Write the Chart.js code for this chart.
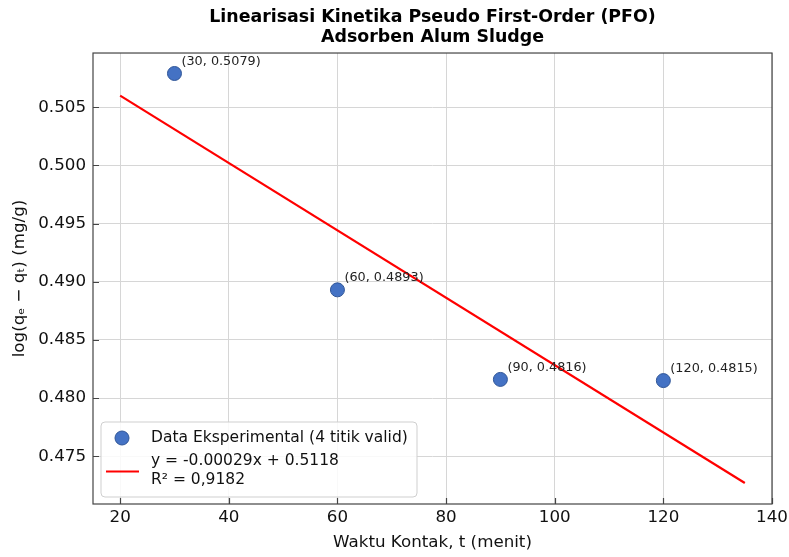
<!DOCTYPE html>
<html>
<head>
<meta charset="utf-8">
<script src="https://cdn.jsdelivr.net/npm/chart.js@4.4.1/dist/chart.umd.min.js"></script>
<style>
  html, body { margin: 0; padding: 0; background: #fff; }
</style>
</head>
<body>
<canvas id="pfo-chart" width="789" height="557"></canvas>
<script>
// data
const timeMin = [30, 60, 90, 120];
const logQ = [0.5079, 0.4893, 0.4816, 0.4815];
const pointLabels = ["(30, 0.5079)", "(60, 0.4893)", "(90, 0.4816)", "(120, 0.4815)"];
const fitX = [20, 135];
const fitY = [0.5060, 0.4727];
const xTicks = [20, 40, 60, 80, 100, 120, 140];
const yTicks = [0.475, 0.480, 0.485, 0.490, 0.495, 0.500, 0.505];
const scatterLabel = "Data Eksperimental (4 titik valid)";
const fitLabel = ["y = -0.00029x + 0.5118", "R\u00b2 = 0,9182"];

const FONT = "'DejaVu Sans', sans-serif";
const dotFill = "#4472c4";
const dotEdge = "#2f5597";
const spine = "#444";

const extras = {
    id: "extras",
    beforeDatasetsDraw(chart) {
        const ctx = chart.ctx;
        const a = chart.chartArea;
        const sx = chart.scales.x, sy = chart.scales.y;
        ctx.save();
        // inward tick marks
        ctx.strokeStyle = spine;
        ctx.lineWidth = 1.2;
        ctx.beginPath();
        xTicks.forEach(v => {
            const px = Math.round(sx.getPixelForValue(v)) + 0.5;
            ctx.moveTo(px, a.bottom);
            ctx.lineTo(px, a.bottom - 6);
        });
        yTicks.forEach(v => {
            const py = Math.round(sy.getPixelForValue(v)) + 0.5;
            ctx.moveTo(a.left, py);
            ctx.lineTo(a.left + 6, py);
        });
        ctx.stroke();
        // spines
        ctx.strokeRect(a.left, a.top, a.right - a.left, a.bottom - a.top);
        ctx.restore();
    },
    afterDraw(chart) {
        const ctx = chart.ctx;
        const a = chart.chartArea;
        const sx = chart.scales.x, sy = chart.scales.y;
        ctx.save();
        // point annotations
        ctx.font = "12.8px " + FONT;
        ctx.fillStyle = "#222";
        ctx.textAlign = "left";
        ctx.textBaseline = "alphabetic";
        timeMin.forEach((t, i) => {
            ctx.fillText(pointLabels[i], sx.getPixelForValue(t) + 7, sy.getPixelForValue(logQ[i]) - 8.5);
        });

        // legend box, lower left
        const bx = a.left + 8, bw = 316, bh = 75;
        const by = a.bottom - 7 - bh;
        ctx.beginPath();
        ctx.roundRect(bx, by, bw, bh, 4);
        ctx.fillStyle = "rgba(255,255,255,0.85)";
        ctx.fill();
        ctx.strokeStyle = "#cfcfcf";
        ctx.lineWidth = 1;
        ctx.stroke();

        ctx.beginPath();
        ctx.arc(bx + 21, by + 16, 7, 0, Math.PI * 2);
        ctx.fillStyle = dotFill;
        ctx.fill();
        ctx.strokeStyle = dotEdge;
        ctx.stroke();

        ctx.beginPath();
        ctx.moveTo(bx + 5, by + 49.5);
        ctx.lineTo(bx + 38, by + 49.5);
        ctx.strokeStyle = "red";
        ctx.lineWidth = 2.2;
        ctx.stroke();

        ctx.font = "15.5px " + FONT;
        ctx.fillStyle = "#111";
        ctx.textBaseline = "middle";
        ctx.fillText(scatterLabel, bx + 50, by + 16);
        ctx.fillText(fitLabel[0], bx + 50, by + 39);
        ctx.fillText(fitLabel[1], bx + 50, by + 58);
        ctx.restore();
    }
};

const ctx = document.getElementById("pfo-chart").getContext("2d");

new Chart(ctx, {
    type: "scatter",
    data: {
        datasets: [{
            label: scatterLabel,
            data: timeMin.map((t, i) => ({ x: t, y: logQ[i] })),
            backgroundColor: dotFill,
            borderColor: dotEdge,
            borderWidth: 1,
            pointRadius: 7,
            pointHoverRadius: 7
        }, {
            label: fitLabel.join(" "),
            data: fitX.map((x, i) => ({ x: x, y: fitY[i] })),
            showLine: true,
            borderColor: "red",
            borderWidth: 2.2,
            pointRadius: 0,
            fill: false
        }]
    },
    options: {
        responsive: false,
        animation: false,
        devicePixelRatio: 1,
        layout: { padding: { left: 0, right: 17, top: 0, bottom: 0 } },
        plugins: {
            legend: { display: false },
            tooltip: { enabled: false },
            title: {
                display: true,
                fullSize: false,
                text: ["Linearisasi Kinetika Pseudo First-Order (PFO)", "Adsorben Alum Sludge"],
                color: "#000",
                font: { family: FONT, size: 17.4, weight: "bold", lineHeight: 1.15 },
                padding: { top: 7, bottom: 6 }
            }
        },
        scales: {
            x: {
                type: "linear",
                min: 15,
                max: 140,
                afterBuildTicks: s => { s.ticks = xTicks.map(v => ({ value: v })); },
                afterFit: s => { s.height = 53; s.paddingLeft = 0; s.paddingRight = 0; },
                ticks: {
                    color: "#111",
                    font: { family: FONT, size: 16.7 },
                    padding: 4,
                    maxRotation: 0,
                    callback: v => String(v)
                },
                grid: { color: "#d6d6d6", lineWidth: 1, drawTicks: false },
                border: { display: false },
                title: {
                    display: true,
                    text: "Waktu Kontak, t (menit)",
                    color: "#111",
                    font: { family: FONT, size: 16.7 },
                    padding: { top: 0, bottom: 4 }
                }
            },
            y: {
                type: "linear",
                min: 0.47089,
                max: 0.50966,
                afterBuildTicks: s => { s.ticks = yTicks.map(v => ({ value: v })); },
                afterFit: s => { s.width = 93; s.paddingTop = 0; s.paddingBottom = 0; },
                ticks: {
                    color: "#111",
                    font: { family: FONT, size: 16.7 },
                    padding: 7,
                    callback: v => v.toFixed(3)
                },
                grid: { color: "#d6d6d6", lineWidth: 1, drawTicks: false },
                border: { display: false },
                title: {
                    display: true,
                    text: "log(q\u2091 \u2212 q\u209c) (mg/g)",
                    color: "#111",
                    font: { family: FONT, size: 16.7 },
                    padding: { top: 10, bottom: 0 }
                }
            }
        }
    },
    plugins: [extras]
});
</script>
</body>
</html>
